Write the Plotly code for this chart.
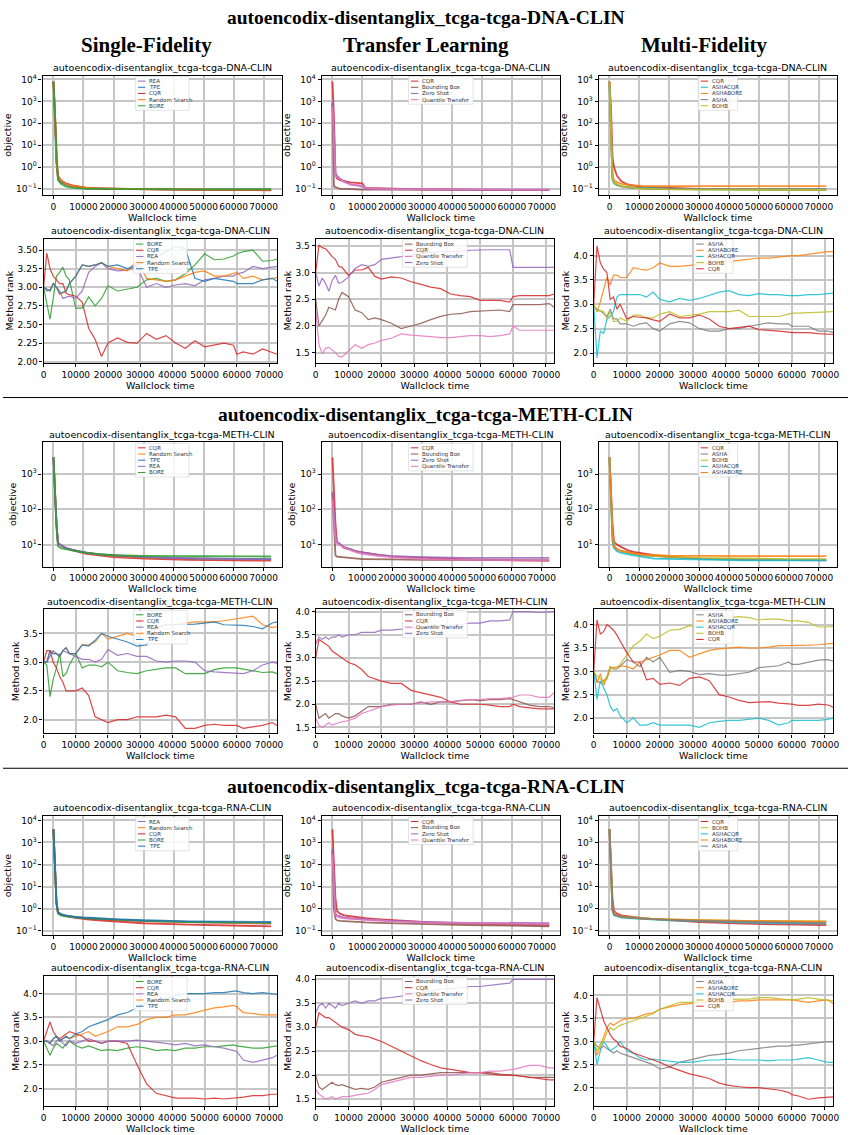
import plotly.graph_objects as go
import math

W, H = 854, 1135

COLORS = {"REA": "#9467bd", "TPE": "#1f77b4", "CQR": "#d62728", "Random Search": "#ff7f0e",
          "BORE": "#2ca02c", "Bounding Box": "#8c564b", "Zero Shot": "#9467bd",
          "Quantile Transfer": "#e377c2", "ASHA": "#7f7f7f", "ASHACQR": "#17becf",
          "ASHABORE": "#ff7f0e", "BOHB": "#bcbd22"}

SECTIONS = ["autoencodix-disentanglix_tcga-tcga-DNA-CLIN",
            "autoencodix-disentanglix_tcga-tcga-METH-CLIN",
            "autoencodix-disentanglix_tcga-tcga-RNA-CLIN"]
COLUMNS = ["Single-Fidelity", "Transfer Learning", "Multi-Fidelity"]

T_OBJ = [0, 500, 1000, 1500, 2500, 4000, 6000, 8000, 10000, 11000, 15000, 20000, 30000, 45000, 60000, 72500]
T_RANK = [0, 1000, 2000, 3000, 4000, 5000, 6000, 7000, 8000, 10000, 12000, 14000, 16000, 18000, 20000,
          23000, 26000, 29000, 32000, 35000, 38000, 41000, 44000, 47000, 50000, 53000, 56000, 59000,
          60000, 62000, 65000, 68000, 71000, 72500]

# ---------------- DNA ----------------
DNA_SF_OBJ = {
    "REA": [8000, 300, 2.0, 0.35, 0.22, 0.17, 0.14, 0.125, 0.115, 0.11, 0.105, 0.1, 0.097, 0.095, 0.094, 0.093],
    "TPE": [8000, 250, 1.5, 0.3, 0.2, 0.16, 0.13, 0.12, 0.11, 0.105, 0.1, 0.098, 0.096, 0.095, 0.094, 0.094],
    "CQR": [8000, 300, 2.0, 0.4, 0.25, 0.18, 0.15, 0.13, 0.12, 0.11, 0.105, 0.1, 0.095, 0.09, 0.088, 0.087],
    "Random Search": [8000, 300, 2.0, 0.35, 0.24, 0.17, 0.14, 0.13, 0.12, 0.11, 0.105, 0.1, 0.097, 0.095, 0.093, 0.092],
    "BORE": [8000, 250, 1.5, 0.25, 0.17, 0.13, 0.115, 0.11, 0.105, 0.1, 0.1, 0.098, 0.096, 0.095, 0.095, 0.095],
}
DNA_TL_OBJ = {
    "CQR": [8000, 200, 0.5, 0.3, 0.25, 0.22, 0.2, 0.19, 0.18, 0.11, 0.105, 0.1, 0.095, 0.092, 0.09, 0.09],
    "Bounding Box": [800, 0.13, 0.12, 0.11, 0.1, 0.1, 0.095, 0.095, 0.093, 0.093, 0.092, 0.092, 0.091, 0.09, 0.09, 0.09],
    "Zero Shot": [1000, 50, 0.5, 0.4, 0.3, 0.22, 0.16, 0.14, 0.13, 0.1, 0.1, 0.098, 0.095, 0.093, 0.092, 0.092],
    "Quantile Transfer": [600, 10, 0.4, 0.35, 0.28, 0.2, 0.16, 0.15, 0.14, 0.11, 0.1, 0.098, 0.095, 0.093, 0.092, 0.092],
}
DNA_MF_OBJ = {
    "CQR": [8000, 500, 3.0, 1.0, 0.4, 0.22, 0.16, 0.14, 0.13, 0.125, 0.12, 0.11, 0.1, 0.095, 0.092, 0.09],
    "ASHACQR": [5000, 10, 0.25, 0.18, 0.15, 0.13, 0.12, 0.115, 0.11, 0.11, 0.105, 0.1, 0.095, 0.093, 0.092, 0.092],
    "ASHABORE": [8000, 30, 0.4, 0.25, 0.2, 0.17, 0.15, 0.14, 0.14, 0.135, 0.135, 0.135, 0.135, 0.135, 0.135, 0.135],
    "ASHA": [8000, 20, 0.3, 0.2, 0.15, 0.13, 0.12, 0.11, 0.11, 0.105, 0.1, 0.1, 0.1, 0.1, 0.1, 0.1],
    "BOHB": [8000, 20, 0.3, 0.2, 0.16, 0.13, 0.12, 0.11, 0.105, 0.1, 0.1, 0.095, 0.093, 0.092, 0.09, 0.09],
}
DNA_SF_RANK = {
    "BORE": [3.0, 2.8, 2.57, 2.85, 3.15, 3.2, 3.27, 3.15, 3.1, 2.72, 2.72, 2.87, 2.75, 2.85, 3.02, 2.95, 2.97, 3.0, 3.1, 3.12,
             3.08, 3.1, 3.18, 3.3, 3.45, 3.37, 3.38, 3.42, 3.45, 3.48, 3.5, 3.35, 3.36, 3.38],
    "CQR": [3.0, 3.46, 3.25, 3.15, 3.1, 3.05, 3.05, 2.92, 2.9, 2.88, 2.8, 2.45, 2.3, 2.07, 2.25, 2.32, 2.26, 2.25, 2.38, 2.3,
            2.35, 2.25, 2.18, 2.28, 2.2, 2.22, 2.25, 2.22, 2.1, 2.13, 2.1, 2.17, 2.12, 2.1],
    "REA": [3.0, 2.95, 2.97, 3.05, 3.0, 2.95, 2.85, 2.87, 2.88, 2.85, 2.95, 3.2, 3.28, 3.33, 3.25, 3.22, 3.23, 3.28, 3.0, 3.05,
            3.0, 3.03, 3.05, 3.02, 3.1, 3.12, 3.15, 3.15, 3.18, 3.2, 3.28, 3.25, 3.27, 3.28],
    "Random Search": [3.0, 2.97, 2.95, 3.05, 3.0, 2.9, 2.92, 2.95, 3.05, 3.15, 3.3, 3.28, 3.3, 3.33, 3.28, 3.25, 3.22, 3.35, 3.12, 3.1,
                      3.08, 3.1, 3.15, 3.2, 3.22, 3.15, 3.15, 3.18, 3.2, 3.12, 3.15, 3.1, 3.12, 3.13],
    "TPE": [3.0, 2.97, 2.95, 3.05, 3.0, 2.92, 2.93, 2.95, 3.05, 3.15, 3.3, 3.28, 3.3, 3.33, 3.28, 3.3, 3.25, 3.3, 3.35, 3.4,
            3.48, 3.55, 3.52, 3.12, 3.08, 3.12, 3.1, 3.08, 3.05, 3.05, 3.05, 3.1, 3.12, 3.08],
}
DNA_TL_RANK = {
    "Bounding Box": [2.5, 2.0, 2.1, 2.2, 2.35, 2.33, 2.3, 2.5, 2.63, 2.55, 2.3, 2.25, 2.12, 2.15, 2.12, 2.05, 1.95, 2.0, 2.05, 2.12,
                     2.18, 2.22, 2.23, 2.27, 2.28, 2.28, 2.3, 2.27, 2.4, 2.4, 2.4, 2.4, 2.42, 2.35],
    "CQR": [3.0, 3.52, 3.47, 3.45, 3.38, 3.3, 3.25, 3.12, 3.1, 2.95, 3.05, 3.05, 3.1, 2.93, 2.88, 2.92, 2.9, 2.83, 2.78, 2.73,
            2.7, 2.6, 2.57, 2.55, 2.48, 2.48, 2.48, 2.45, 2.55, 2.57, 2.57, 2.57, 2.57, 2.6],
    "Quantile Transfer": [2.3, 1.65, 1.48, 1.58, 1.6, 1.55, 1.5, 1.43, 1.42, 1.53, 1.65, 1.58, 1.65, 1.68, 1.73, 1.77, 1.85, 1.83, 1.82, 1.8,
                          1.78, 1.78, 1.8, 1.82, 1.82, 1.8, 1.82, 1.85, 2.0, 1.92, 1.92, 1.92, 1.92, 1.92],
    "Zero Shot": [3.0, 2.75, 2.9, 2.8, 2.65, 2.85, 2.95, 2.8, 2.82, 2.92, 3.08, 3.15, 3.12, 3.15, 3.25, 3.27, 3.3, 3.33, 3.35, 3.38,
                  3.4, 3.4, 3.4, 3.42, 3.43, 3.43, 3.43, 3.43, 3.1, 3.1, 3.1, 3.1, 3.1, 3.1],
}
DNA_MF_RANK = {
    "ASHA": [2.95, 2.9, 2.87, 2.8, 2.75, 2.9, 2.7, 2.7, 2.6, 2.6, 2.55, 2.6, 2.62, 2.5, 2.45, 2.6, 2.65, 2.62, 2.5, 2.45,
             2.45, 2.5, 2.5, 2.55, 2.58, 2.62, 2.6, 2.6, 2.55, 2.55, 2.55, 2.45, 2.45, 2.42],
    "ASHABORE": [3.0, 2.85, 3.05, 3.3, 3.55, 3.4, 3.6, 3.6, 3.55, 3.55, 3.75, 3.72, 3.7, 3.75, 3.85, 3.78, 3.78, 3.8, 3.82, 3.85,
                 3.88, 3.88, 3.9, 3.93, 3.95, 3.95, 3.97, 4.0, 4.0, 4.0, 4.03, 4.05, 4.08, 4.08],
    "ASHACQR": [3.0, 1.9, 2.45, 2.4, 2.7, 2.75, 2.85, 3.15, 3.2, 3.2, 3.2, 3.2, 3.15, 3.25, 3.1, 3.05, 3.12, 3.08, 3.12, 3.18,
                3.25, 3.28, 3.2, 3.18, 3.22, 3.2, 3.2, 3.18, 3.18, 3.18, 3.2, 3.2, 3.22, 3.23],
    "BOHB": [3.0, 2.85, 2.87, 2.85, 2.7, 2.85, 2.65, 2.65, 2.72, 2.65, 2.78, 2.78, 2.72, 2.72, 2.8, 2.85, 2.75, 2.78, 2.8, 2.85,
             2.85, 2.85, 2.88, 2.75, 2.75, 2.75, 2.75, 2.8, 2.82, 2.82, 2.83, 2.84, 2.85, 2.85],
    "CQR": [3.0, 4.2, 3.85, 3.72, 3.65, 3.1, 3.15, 2.9, 3.0, 2.7, 2.75, 2.73, 2.72, 2.68, 2.65, 2.8, 2.72, 2.72, 2.78, 2.7,
            2.55, 2.5, 2.52, 2.55, 2.48, 2.47, 2.45, 2.43, 2.42, 2.42, 2.42, 2.4, 2.38, 2.38],
}

# ---------------- METH ----------------
METH_SF_OBJ = {
    "CQR": [3000, 300, 40, 11, 9.5, 8, 7, 6.2, 5.7, 5.5, 5, 4.4, 4.0, 3.7, 3.6, 3.5],
    "Random Search": [3000, 300, 40, 11, 9.5, 8, 7.2, 6.5, 6, 5.8, 5.3, 4.8, 4.3, 4.0, 3.9, 3.8],
    "TPE": [3000, 300, 40, 11, 9.5, 8, 7.2, 6.5, 6, 5.8, 5.3, 4.9, 4.4, 4.1, 4.0, 3.9],
    "REA": [3000, 300, 40, 11, 9.5, 8.2, 7.3, 6.6, 6.1, 5.9, 5.4, 5.0, 4.5, 4.1, 3.9, 3.8],
    "BORE": [3000, 250, 30, 9, 8, 7.5, 7, 6.5, 6, 5.8, 5.4, 5.0, 4.8, 4.7, 4.6, 4.6],
}
METH_TL_OBJ = {
    "CQR": [3000, 300, 40, 12, 10, 8, 7.5, 6.5, 6, 5.8, 5.2, 4.6, 4.2, 3.8, 3.6, 3.5],
    "Bounding Box": [300, 20, 5, 4.6, 4.5, 4.3, 4.1, 4.0, 3.9, 3.9, 3.8, 3.8, 3.7, 3.7, 3.6, 3.6],
    "Zero Shot": [300, 60, 20, 12, 10.5, 8.5, 7.5, 6.3, 6.0, 5.8, 5.2, 4.7, 4.4, 4.2, 4.2, 4.2],
    "Quantile Transfer": [200, 50, 15, 11, 9.5, 8, 7, 6, 5.5, 5.3, 4.8, 4.4, 3.9, 3.7, 3.6, 3.6],
}
METH_MF_OBJ = {
    "CQR": [3000, 300, 40, 12, 10, 8.5, 7, 6.2, 5.8, 5.5, 5.0, 4.5, 4.0, 3.7, 3.6, 3.6],
    "ASHA": [3000, 200, 20, 9, 7.5, 6.5, 6, 5.5, 5.2, 5.0, 4.7, 4.4, 4.0, 3.8, 3.7, 3.7],
    "BOHB": [3000, 200, 20, 9, 7.5, 6.5, 6, 5.5, 5.2, 5.0, 4.8, 4.5, 4.2, 4.0, 3.9, 3.9],
    "ASHACQR": [3000, 150, 12, 8, 6.5, 5.8, 5.3, 5.0, 4.7, 4.5, 4.0, 3.9, 3.8, 3.6, 3.6, 3.6],
    "ASHABORE": [3000, 200, 18, 9, 7.5, 6.5, 6, 5.6, 5.3, 5.2, 5.0, 4.9, 4.8, 4.7, 4.7, 4.7],
}
METH_SF_RANK = {
    "BORE": [3.0, 2.95, 2.4, 2.7, 2.9, 3.15, 2.75, 2.8, 2.95, 3.15, 2.9, 2.95, 2.95, 2.92, 3.0, 2.85, 2.82, 2.8, 2.85, 2.88,
             2.9, 2.9, 2.8, 2.8, 2.8, 2.87, 2.9, 2.9, 2.9, 2.88, 2.85, 2.82, 2.83, 2.8],
    "CQR": [3.0, 3.2, 3.2, 3.0, 2.9, 2.75, 2.65, 2.5, 2.5, 2.5, 2.55, 2.42, 2.05, 2.0, 1.95, 2.0, 2.0, 2.05, 2.05, 2.05,
            2.08, 2.05, 1.85, 1.85, 1.9, 1.92, 1.9, 1.9, 1.9, 1.85, 1.88, 1.9, 1.95, 1.9],
    "REA": [3.0, 3.0, 3.1, 3.2, 3.15, 3.1, 3.2, 3.18, 3.15, 3.1, 3.05, 3.05, 3.0, 3.05, 3.22, 3.12, 3.15, 3.1, 3.1, 3.02,
            3.0, 3.02, 3.02, 3.0, 2.85, 2.83, 2.82, 2.8, 2.8, 2.8, 2.85, 2.95, 3.0, 2.98],
    "Random Search": [3.0, 3.0, 3.2, 3.15, 3.15, 3.1, 3.2, 3.25, 3.15, 3.15, 3.3, 3.3, 3.35, 3.5, 3.4, 3.45, 3.5, 3.45, 3.52, 3.6,
                      3.65, 3.65, 3.68, 3.7, 3.7, 3.7, 3.72, 3.75, 3.75, 3.78, 3.8, 3.65, 3.6, 3.62],
    "TPE": [3.0, 3.0, 3.2, 3.15, 3.15, 3.1, 3.2, 3.25, 3.15, 3.15, 3.3, 3.28, 3.38, 3.5, 3.45, 3.4, 3.35, 3.28, 3.3, 3.6,
            3.65, 3.65, 3.65, 3.66, 3.68, 3.7, 3.65, 3.65, 3.65, 3.64, 3.62, 3.58, 3.68, 3.7],
}
METH_TL_RANK = {
    "Bounding Box": [2.0, 1.7, 1.75, 1.8, 1.7, 1.75, 1.8, 1.8, 1.75, 1.7, 1.75, 1.85, 1.95, 1.95, 1.95, 2.0, 2.0, 2.0, 2.05, 2.0,
                     2.05, 2.05, 2.08, 2.1, 2.08, 2.1, 2.1, 2.12, 2.1, 2.05, 1.98, 1.95, 1.95, 1.93],
    "CQR": [3.0, 3.4, 3.35, 3.3, 3.25, 3.15, 3.1, 3.05, 3.0, 2.9, 2.85, 2.75, 2.6, 2.55, 2.5, 2.45, 2.45, 2.3, 2.25, 2.2,
            2.15, 2.05, 2.0, 2.0, 2.0, 1.98, 1.95, 1.95, 2.0, 1.95, 1.92, 1.9, 1.9, 1.9],
    "Quantile Transfer": [1.7, 1.55, 1.5, 1.55, 1.6, 1.55, 1.58, 1.6, 1.62, 1.65, 1.7, 1.8, 1.85, 1.9, 1.95, 1.98, 2.0, 2.0, 2.02, 2.05,
                          2.05, 2.05, 2.08, 2.1, 2.1, 2.12, 2.12, 2.15, 2.15, 2.2, 2.2, 2.15, 2.15, 2.25],
    "Zero Shot": [3.3, 3.45, 3.4, 3.45, 3.4, 3.45, 3.45, 3.5, 3.45, 3.5, 3.5, 3.55, 3.55, 3.55, 3.6, 3.6, 3.62, 3.65, 3.65, 3.65,
                  3.7, 3.7, 3.72, 3.75, 3.75, 3.8, 3.8, 3.82, 4.0, 4.0, 4.0, 3.98, 4.0, 4.0],
}
METH_MF_RANK = {
    "ASHA": [3.0, 2.8, 2.75, 2.8, 2.85, 3.1, 3.05, 3.05, 3.1, 3.25, 3.2, 3.1, 3.3, 3.2, 3.3, 2.98, 3.02, 3.0, 2.93, 2.95,
             2.92, 2.92, 2.95, 2.98, 3.08, 3.1, 3.12, 3.2, 3.15, 3.15, 3.2, 3.24, 3.25, 3.22],
    "ASHABORE": [3.0, 2.75, 2.95, 2.7, 2.85, 3.05, 3.08, 3.1, 3.12, 3.1, 3.05, 3.2, 3.25, 3.3, 3.35, 3.45, 3.45, 3.3, 3.38, 3.45,
                 3.48, 3.5, 3.52, 3.5, 3.5, 3.52, 3.55, 3.55, 3.55, 3.55, 3.56, 3.57, 3.58, 3.6],
    "ASHACQR": [3.0, 2.4, 2.8, 2.65, 2.5, 2.25, 2.15, 2.2, 2.05, 1.9, 2.0, 1.85, 1.85, 1.9, 1.85, 1.85, 1.85, 1.85, 1.8, 1.9,
                1.93, 1.95, 1.95, 1.98, 2.0, 1.95, 1.85, 1.9, 1.95, 1.95, 1.95, 1.95, 1.97, 2.0],
    "BOHB": [3.0, 2.9, 2.85, 2.75, 2.9, 3.1, 3.05, 3.05, 3.15, 3.35, 3.55, 3.65, 3.8, 3.7, 3.75, 3.88, 3.9, 3.98, 3.95, 4.1,
             4.12, 4.15, 4.17, 4.15, 4.1, 4.12, 4.12, 4.08, 4.08, 4.08, 4.05, 3.95, 3.95, 3.97],
    "CQR": [3.0, 4.1, 3.8, 3.85, 4.0, 3.95, 3.88, 3.78, 3.65, 3.4, 3.2, 3.2, 2.82, 2.85, 2.72, 2.75, 2.7, 2.85, 2.88, 2.8,
            2.5, 2.45, 2.38, 2.33, 2.34, 2.35, 2.32, 2.3, 2.3, 2.27, 2.27, 2.3, 2.28, 2.23],
}

# ---------------- RNA ----------------
RNA_SF_OBJ = {
    "REA": [4000, 100, 2, 0.7, 0.55, 0.48, 0.42, 0.4, 0.38, 0.37, 0.35, 0.32, 0.28, 0.25, 0.22, 0.21],
    "Random Search": [4000, 100, 2, 0.7, 0.55, 0.48, 0.43, 0.4, 0.38, 0.37, 0.35, 0.32, 0.28, 0.25, 0.23, 0.22],
    "CQR": [4000, 100, 2, 0.7, 0.55, 0.48, 0.42, 0.38, 0.35, 0.33, 0.3, 0.27, 0.22, 0.19, 0.17, 0.16],
    "BORE": [4000, 80, 1.5, 0.6, 0.5, 0.45, 0.42, 0.4, 0.38, 0.37, 0.35, 0.32, 0.28, 0.25, 0.24, 0.23],
    "TPE": [4000, 100, 2, 0.7, 0.55, 0.5, 0.45, 0.42, 0.4, 0.39, 0.37, 0.34, 0.3, 0.27, 0.25, 0.25],
}
RNA_TL_OBJ = {
    "CQR": [4000, 150, 3, 0.8, 0.6, 0.5, 0.45, 0.42, 0.38, 0.37, 0.34, 0.3, 0.25, 0.21, 0.19, 0.18],
    "Bounding Box": [500, 1, 0.35, 0.3, 0.28, 0.27, 0.26, 0.25, 0.24, 0.24, 0.23, 0.22, 0.2, 0.18, 0.17, 0.16],
    "Zero Shot": [500, 10, 0.6, 0.5, 0.45, 0.4, 0.37, 0.35, 0.33, 0.32, 0.3, 0.28, 0.25, 0.23, 0.22, 0.22],
    "Quantile Transfer": [300, 5, 0.5, 0.45, 0.4, 0.37, 0.35, 0.33, 0.32, 0.31, 0.3, 0.27, 0.24, 0.22, 0.21, 0.2],
}
RNA_MF_OBJ = {
    "CQR": [4000, 150, 3, 0.8, 0.6, 0.5, 0.45, 0.42, 0.38, 0.37, 0.34, 0.3, 0.25, 0.21, 0.19, 0.18],
    "BOHB": [4000, 50, 1, 0.6, 0.5, 0.45, 0.42, 0.4, 0.38, 0.37, 0.35, 0.33, 0.3, 0.28, 0.27, 0.27],
    "ASHACQR": [4000, 30, 0.8, 0.5, 0.45, 0.4, 0.38, 0.36, 0.35, 0.34, 0.32, 0.3, 0.27, 0.24, 0.22, 0.21],
    "ASHABORE": [4000, 40, 0.9, 0.55, 0.48, 0.43, 0.4, 0.38, 0.37, 0.36, 0.34, 0.32, 0.3, 0.28, 0.27, 0.26],
    "ASHA": [4000, 40, 0.9, 0.55, 0.48, 0.43, 0.4, 0.38, 0.37, 0.36, 0.34, 0.31, 0.28, 0.25, 0.23, 0.22],
}
RNA_SF_RANK = {
    "BORE": [3.0, 2.85, 2.7, 2.85, 2.95, 2.9, 2.85, 2.95, 3.0, 2.9, 2.85, 2.9, 2.85, 2.8, 2.82, 2.8, 2.85, 2.88, 2.85, 2.8,
             2.82, 2.8, 2.85, 2.85, 2.88, 2.88, 2.9, 2.92, 2.9, 2.88, 2.85, 2.85, 2.88, 2.9],
    "CQR": [3.0, 3.2, 3.4, 3.2, 3.1, 3.05, 3.1, 3.15, 3.2, 3.15, 3.1, 3.0, 3.0, 2.95, 3.0, 3.0, 2.95, 2.5, 2.1, 1.9,
            1.85, 1.8, 1.8, 1.8, 1.78, 1.8, 1.78, 1.8, 1.8, 1.82, 1.85, 1.85, 1.88, 1.88],
    "REA": [3.0, 3.0, 2.95, 2.9, 3.0, 3.05, 2.95, 2.9, 3.0, 2.95, 3.0, 3.05, 3.0, 2.95, 3.0, 3.0, 3.0, 3.02, 3.0, 2.98,
            2.95, 2.92, 2.95, 2.9, 2.92, 2.88, 2.85, 2.8, 2.78, 2.6, 2.55, 2.6, 2.65, 2.7],
    "Random Search": [3.0, 3.0, 2.95, 3.05, 3.1, 3.0, 3.05, 3.1, 3.05, 3.1, 3.15, 3.2, 3.1, 3.15, 3.2, 3.3, 3.3, 3.35, 3.45, 3.5,
                      3.5, 3.55, 3.55, 3.6, 3.65, 3.7, 3.72, 3.75, 3.72, 3.6, 3.58, 3.55, 3.55, 3.55],
    "TPE": [3.0, 3.0, 2.95, 3.05, 3.1, 3.0, 3.05, 3.1, 3.05, 3.15, 3.2, 3.3, 3.35, 3.4, 3.45, 3.55, 3.6, 3.7, 3.8, 3.85,
            3.9, 3.95, 4.0, 4.0, 4.0, 4.02, 4.02, 4.05, 4.05, 4.02, 4.0, 4.02, 4.0, 3.98],
}
RNA_TL_RANK = {
    "Bounding Box": [2.0, 1.75, 1.7, 1.75, 1.8, 1.85, 1.8, 1.78, 1.8, 1.75, 1.7, 1.72, 1.7, 1.75, 1.85, 1.9, 1.95, 2.0, 2.0, 2.02,
                     2.05, 2.05, 2.05, 2.05, 2.05, 2.05, 2.02, 2.0, 2.0, 1.98, 1.95, 1.95, 1.95, 1.95],
    "CQR": [3.0, 3.3, 3.25, 3.2, 3.2, 3.15, 3.1, 3.05, 3.0, 2.95, 2.85, 2.82, 2.8, 2.75, 2.7, 2.6, 2.5, 2.4, 2.3, 2.22,
            2.15, 2.12, 2.08, 2.05, 2.05, 2.02, 2.0, 2.0, 2.0, 1.98, 1.95, 1.92, 1.9, 1.9],
    "Quantile Transfer": [1.7, 1.6, 1.55, 1.5, 1.52, 1.55, 1.5, 1.52, 1.55, 1.55, 1.58, 1.6, 1.62, 1.7, 1.8, 1.85, 1.9, 1.95, 1.95, 1.98,
                          2.0, 2.0, 2.02, 2.05, 2.05, 2.08, 2.08, 2.1, 2.12, 2.15, 2.2, 2.2, 2.15, 2.15],
    "Zero Shot": [3.3, 3.45, 3.5, 3.4, 3.5, 3.45, 3.4, 3.5, 3.45, 3.5, 3.55, 3.5, 3.55, 3.55, 3.6, 3.62, 3.65, 3.7, 3.72, 3.75,
                  3.8, 3.8, 3.82, 3.85, 3.85, 3.88, 3.9, 3.92, 4.0, 4.0, 4.0, 4.0, 4.0, 4.0],
}
RNA_MF_RANK = {
    "ASHA": [3.0, 2.9, 2.85, 2.9, 2.85, 2.8, 2.75, 2.8, 2.75, 2.7, 2.65, 2.6, 2.55, 2.5, 2.4, 2.45, 2.55, 2.6, 2.65, 2.7,
             2.72, 2.75, 2.8, 2.82, 2.85, 2.88, 2.9, 2.9, 2.92, 2.92, 2.95, 2.98, 3.0, 3.0],
    "ASHABORE": [3.0, 2.7, 2.9, 3.1, 3.3, 3.4, 3.35, 3.4, 3.45, 3.5, 3.5, 3.55, 3.6, 3.62, 3.7, 3.75, 3.8, 3.82, 3.85, 3.85,
                 3.85, 3.85, 3.88, 3.88, 3.9, 3.9, 3.9, 3.9, 3.9, 3.88, 3.85, 3.88, 3.9, 3.82],
    "ASHACQR": [3.0, 2.5, 2.8, 3.0, 2.9, 2.8, 2.85, 2.9, 3.0, 2.8, 2.75, 2.65, 2.6, 2.62, 2.6, 2.58, 2.55, 2.55, 2.58, 2.6,
                2.6, 2.62, 2.6, 2.6, 2.6, 2.58, 2.6, 2.6, 2.6, 2.62, 2.65, 2.6, 2.55, 2.55],
    "BOHB": [3.0, 2.8, 2.95, 3.0, 3.2, 3.3, 3.25, 3.3, 3.35, 3.4, 3.45, 3.5, 3.55, 3.6, 3.7, 3.78, 3.85, 3.85, 3.88, 3.88,
             3.9, 3.9, 3.92, 3.92, 3.95, 3.95, 3.93, 3.9, 3.9, 3.92, 3.95, 3.92, 3.9, 3.88],
    "CQR": [3.0, 3.95, 3.7, 3.45, 3.3, 3.15, 3.05, 3.0, 2.9, 2.85, 2.75, 2.7, 2.65, 2.6, 2.55, 2.45, 2.38, 2.3, 2.25, 2.2,
            2.1, 2.05, 2.02, 2.0, 2.0, 1.98, 1.95, 1.9, 1.85, 1.82, 1.75, 1.78, 1.8, 1.8],
}

OBJ_DATA = [[DNA_SF_OBJ, DNA_TL_OBJ, DNA_MF_OBJ],
            [METH_SF_OBJ, METH_TL_OBJ, METH_MF_OBJ],
            [RNA_SF_OBJ, RNA_TL_OBJ, RNA_MF_OBJ]]
RANK_DATA = [[DNA_SF_RANK, DNA_TL_RANK, DNA_MF_RANK],
             [METH_SF_RANK, METH_TL_RANK, METH_MF_RANK],
             [RNA_SF_RANK, RNA_TL_RANK, RNA_MF_RANK]]

# layout geometry in pixels
SEC_TITLE_Y = [15, 414, 788]
ROW_BOX = [(73, 193, 237, 362), (442, 567, 610, 735), (818, 938, 979, 1110)]
OBJ_COLS = [(40, 282), (322, 563), (602, 843)]
RANK_COLS = [(41, 277), (316, 557), (597, 839)]
OBJ_YRANGE = [(-1.27, 4.18), (0.38, 3.9), (-1.2, 4.2)]
OBJ_TICKS = [[0.1, 1, 10, 100, 1000, 10000], [10, 100, 1000], [0.1, 1, 10, 100, 1000, 10000]]
RANK_YRANGE = [[(1.985, 3.655), (1.31, 3.64), (1.8, 4.35)],
               [(1.76, 3.92), (1.37, 4.05), (1.67, 4.33)],
               [(1.63, 4.37), (1.35, 4.07), (1.6, 4.42)]]
RANK_TICKS = [[[2.0, 2.25, 2.5, 2.75, 3.0, 3.25, 3.5], [1.5, 2.0, 2.5, 3.0, 3.5], [2.0, 2.5, 3.0, 3.5, 4.0]],
              [[2.0, 2.5, 3.0, 3.5], [1.5, 2.0, 2.5, 3.0, 3.5, 4.0], [2.0, 2.5, 3.0, 3.5, 4.0]],
              [[2.0, 2.5, 3.0, 3.5, 4.0], [1.5, 2.0, 2.5, 3.0, 3.5, 4.0], [2.0, 2.5, 3.0, 3.5, 4.0]]]
X_TICKS = [0, 10000, 20000, 30000, 40000, 50000, 60000, 70000]


def fx(px):
    return px / W


def fy(py):
    return 1 - py / H


def sup(v):
    e = int(round(math.log10(v)))
    s = str(e).replace("-", "\u2212")
    return "10<sup>" + s + "</sup>"


fig = go.Figure()
layout = dict(width=W, height=H, margin=dict(l=0, r=0, t=0, b=0),
              paper_bgcolor="white", plot_bgcolor="white", showlegend=False)
annotations = []
shapes = []
TICKFONT = dict(family="DejaVu Sans", size=9, color="black")
TITLEFONT = dict(family="DejaVu Sans", size=9.5, color="black")
GRID = "#c6c6c6"


def add_legend(x0, x1, top, names):
    n = len(names)
    maxlen = max(len(s) for s in names)
    bw = maxlen * 2.85 + 17
    cx = (x0 + x1) / 2
    lx = cx - bw / 2
    bh = n * 6.2 + 3
    shapes.append(dict(type="rect", xref="paper", yref="paper", x0=fx(lx), x1=fx(lx + bw),
                       y0=fy(top + bh), y1=fy(top), fillcolor="rgba(255,255,255,0.85)",
                       line=dict(color="#d0d0d0", width=0.6), layer="above"))
    for i, nm in enumerate(names):
        yy = top + 4.6 + 6.2 * i
        shapes.append(dict(type="line", xref="paper", yref="paper", x0=fx(lx + 2.5), x1=fx(lx + 10),
                           y0=fy(yy), y1=fy(yy), line=dict(color=COLORS[nm], width=1), layer="above"))
        annotations.append(dict(text=nm, xref="paper", yref="paper", x=fx(lx + 12), y=fy(yy),
                                xanchor="left", yanchor="middle", showarrow=False,
                                font=dict(family="DejaVu Sans", size=5.5, color="#333333")))


idx = 0
for s in range(3):
    annotations.append(dict(text="<b>" + SECTIONS[s] + "</b>", xref="paper", yref="paper",
                            x=0.5, y=fy(SEC_TITLE_Y[s]), xanchor="center", yanchor="middle",
                            showarrow=False, font=dict(family="Liberation Serif", size=19.5, color="black")))
    ot, ob, rt, rb = ROW_BOX[s]
    for r in range(2):
        for c in range(3):
            idx += 1
            xa = "xaxis" if idx == 1 else "xaxis%d" % idx
            ya = "yaxis" if idx == 1 else "yaxis%d" % idx
            xr = "x" if idx == 1 else "x%d" % idx
            yr = "y" if idx == 1 else "y%d" % idx
            if r == 0:
                data = OBJ_DATA[s][c]
                t = T_OBJ
                x0, x1 = OBJ_COLS[c]
                top, bot = ot, ob
                xrange = [-3625, 76125]
                ylo, yhi = OBJ_YRANGE[s]
                yaxis = dict(type="log", range=[ylo, yhi], tickvals=OBJ_TICKS[s],
                             ticktext=[sup(v) for v in OBJ_TICKS[s]])
                ylabel = "objective"
                width = 1.8
            else:
                data = RANK_DATA[s][c]
                t = T_RANK
                x0, x1 = RANK_COLS[c]
                top, bot = rt, rb
                xrange = [0, 72500]
                ylo, yhi = RANK_YRANGE[s][c]
                tv = RANK_TICKS[s][c]
                fmt = "%.2f" if (s == 0 and c == 0) else "%.1f"
                yaxis = dict(range=[ylo, yhi], tickvals=tv, ticktext=[fmt % v for v in tv])
                ylabel = "Method rank"
                width = 1.2
            for nm, vals in data.items():
                fig.add_trace(go.Scatter(x=t, y=vals, mode="lines", name=nm, xaxis=xr, yaxis=yr,
                                         line=dict(color=COLORS[nm], width=width), opacity=0.85))
            common = dict(showgrid=True, gridcolor=GRID, gridwidth=1.5, zeroline=False,
                          showline=True, linecolor="black", linewidth=1.2, mirror=True,
                          ticks="outside", ticklen=3, tickcolor="black", tickwidth=1,
                          tickfont=TICKFONT)
            layout[xa] = dict(domain=[fx(x0), fx(x1)], anchor=yr, range=xrange, tickvals=X_TICKS,
                              ticktext=[str(v) for v in X_TICKS], tickangle=0,
                              title=dict(text="Wallclock time", font=TITLEFONT, standoff=0), **common)
            yaxis.update(dict(domain=[fy(bot), fy(top)], anchor=xr,
                              title=dict(text=ylabel, font=TITLEFONT, standoff=2), **common))
            layout[ya] = yaxis
            annotations.append(dict(text=SECTIONS[s], xref="paper", yref="paper", x=fx((x0 + x1) / 2),
                                    y=fy(top - 0.5), xanchor="center", yanchor="bottom", showarrow=False,
                                    font=dict(family="DejaVu Sans", size=9.5, color="black")))
            add_legend(x0, x1, top + 1, list(data.keys()))

COL_X = [145, 427, 708]
for c in range(3):
    annotations.append(dict(text="<b>" + COLUMNS[c] + "</b>", xref="paper", yref="paper", x=fx(COL_X[c]),
                            y=fy(42), xanchor="center", yanchor="middle", showarrow=False,
                            font=dict(family="Liberation Serif", size=21, color="black")))

for py in [397, 770]:
    shapes.append(dict(type="line", xref="paper", yref="paper", x0=0, x1=1, y0=fy(py), y1=fy(py),
                       line=dict(color="black", width=1)))

layout["annotations"] = annotations
layout["shapes"] = shapes
fig.update_layout(**layout)
fig.write_html("out.html")
